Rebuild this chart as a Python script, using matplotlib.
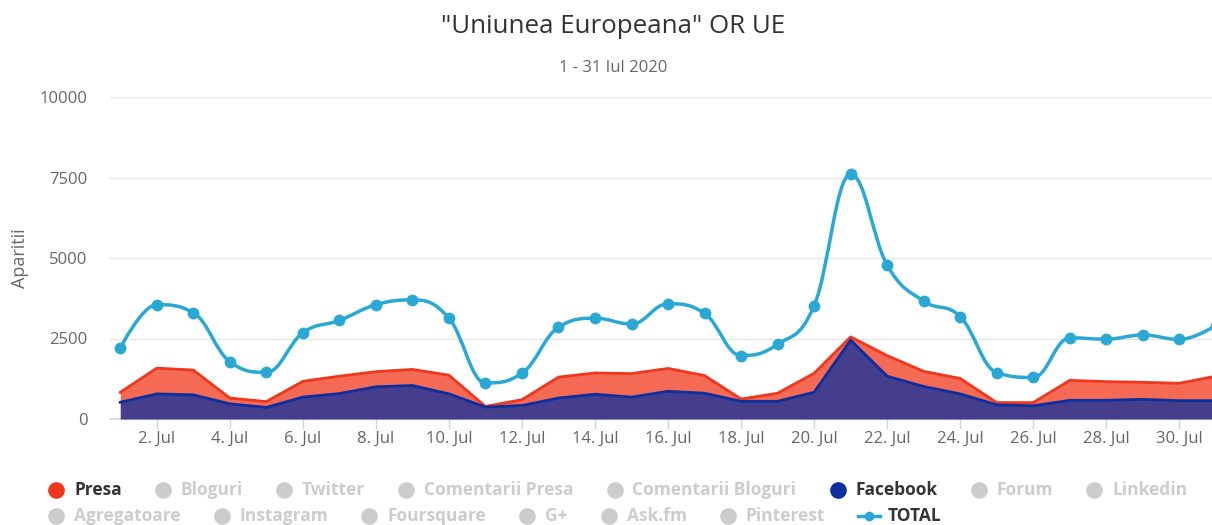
import matplotlib
matplotlib.use("Agg")
import matplotlib.pyplot as plt
from matplotlib.path import Path
from matplotlib.patches import PathPatch

plt.rcParams['font.family'] = ['Open Sans', 'DejaVu Sans']

# --- data ---
days = list(range(1, 32))
tick_days = list(range(2, 31, 2))
tick_labels = [str(d) + '. Jul' for d in tick_days]
y_ticks = [0, 2500, 5000, 7500, 10000]

facebook = [520, 780, 750, 470, 360, 680, 790, 1000, 1040, 780, 370, 420, 650, 770, 680, 860,
            800, 550, 550, 830, 2450, 1330, 1010, 780, 440, 410, 580, 580, 610, 570, 570]
presa = [310, 800, 770, 180, 180, 490, 540, 470, 500, 580, 20, 180, 650, 660, 730, 710,
         550, 70, 250, 590, 100, 640, 470, 480, 70, 100, 620, 580, 530, 540, 760]
total = [2200, 3550, 3300, 1780, 1450, 2680, 3060, 3550, 3700, 3130, 1120, 1420, 2850, 3130, 2950, 3580,
         3280, 1970, 2320, 3520, 7600, 4780, 3660, 3180, 1440, 1290, 2520, 2480, 2610, 2470, 2900]

legend_items = ['Presa', 'Bloguri', 'Twitter', 'Comentarii Presa', 'Comentarii Bloguri', 'Facebook',
                'Forum', 'Linkedin', 'Agregatoare', 'Instagram', 'Foursquare', 'G+', 'Ask.fm',
                'Pinterest', 'TOTAL']

RED_LINE = '#f0361c'
RED_FILL = '#f46a55'
BLUE_LINE = '#0b2f9f'
BLUE_FILL = '#443e8c'
TOTAL_C = '#2aa8d5'
legend_colors = {'Presa': RED_LINE, 'Facebook': BLUE_LINE, 'TOTAL': TOTAL_C}


def spline_path(xs, ys, smoothing=1.5):
    # highcharts style spline, control points per point
    n = len(xs)
    left = [None] * n
    right = [None] * n
    d = smoothing + 1
    for i in range(1, n - 1):
        x, y = xs[i], ys[i]
        lx, ly = xs[i - 1], ys[i - 1]
        nx, ny = xs[i + 1], ys[i + 1]
        lcx = (smoothing * x + lx) / d
        lcy = (smoothing * y + ly) / d
        rcx = (smoothing * x + nx) / d
        rcy = (smoothing * y + ny) / d
        corr = ((rcy - lcy) * (rcx - x)) / (rcx - lcx) + y - rcy
        lcy += corr
        rcy += corr
        if lcy > ly and lcy > y:
            lcy = max(ly, y)
            rcy = 2 * y - lcy
        elif lcy < ly and lcy < y:
            lcy = min(ly, y)
            rcy = 2 * y - lcy
        if rcy > ny and rcy > y:
            rcy = max(ny, y)
            lcy = 2 * y - rcy
        elif rcy < ny and rcy < y:
            rcy = min(ny, y)
            lcy = 2 * y - rcy
        left[i] = (lcx, lcy)
        right[i] = (rcx, rcy)
    verts = [(xs[0], ys[0])]
    codes = [Path.MOVETO]
    for i in range(1, n):
        c1 = right[i - 1] if right[i - 1] else (xs[i - 1], ys[i - 1])
        c2 = left[i] if left[i] else (xs[i], ys[i])
        verts += [c1, c2, (xs[i], ys[i])]
        codes += [Path.CURVE4] * 3
    return Path(verts, codes)


W, H = 1212, 525
fig = plt.figure(figsize=(W / 100, H / 100), dpi=100)
ax = fig.add_axes([110 / W, 1 - 419 / H, 1 - 110 / W, 322 / H])

top = [f + p for f, p in zip(facebook, presa)]
ax.fill_between(days, 0, top, color=RED_FILL, lw=0, zorder=2)
ax.fill_between(days, 0, facebook, color=BLUE_FILL, lw=0, zorder=3)
ax.plot(days, top, color=RED_LINE, lw=2, zorder=4)
ax.plot(days, facebook, color=BLUE_LINE, lw=2, zorder=4)

ax.add_patch(PathPatch(spline_path(days, total), fc='none', ec=TOTAL_C, lw=2.5, zorder=5))
ax.plot(days, total, 'o', color=TOTAL_C, ms=8.5, mec='none', zorder=6)

ax.set_xlim(1 - 10.3 / 36.52, 1 + (W - 120.2) / 36.52)
ax.set_ylim(0, 10000)
ax.set_yticks(y_ticks)
ax.set_yticklabels([str(v) for v in y_ticks])
ax.set_xticks(tick_days)
ax.set_xticklabels(tick_labels)
ax.grid(axis='y', color='#e6e6e6', lw=1, zorder=0)
ax.set_axisbelow(True)
for s in ['top', 'right', 'left']:
    ax.spines[s].set_visible(False)
ax.spines['bottom'].set_color('#ccd6eb')
ax.spines['bottom'].set_linewidth(1.2)
ax.tick_params(axis='y', length=0, pad=16, labelsize=12, labelcolor='#666666')
ax.tick_params(axis='x', length=7.5, width=1, color='#ccd6eb', pad=1, labelsize=12, labelcolor='#666666')

fig.text(20 / W, 1 - 258 / H, 'Aparitii', rotation=90, fontsize=13, color='#666666', ha='center', va='center')
fig.text(613 / W, 1 - 33 / H, '"Uniunea Europeana" OR UE', fontsize=18.6, color='#333333', ha='center', va='baseline')
fig.text(613 / W, 1 - 72 / H, '1 - 31 Iul 2020', fontsize=12, color='#666666', ha='center', va='baseline')

# legend, drawn by hand so it flows like the original
lax = fig.add_axes([0, 0, 1, 1])
lax.set_xlim(0, W)
lax.set_ylim(H, 0)
lax.axis('off')
renderer = fig.canvas.get_renderer()
x, y = 48, 490
for name in legend_items:
    col = legend_colors.get(name, '#cccccc')
    tcol = '#333333' if name in legend_colors else '#cccccc'
    sym_w = 30 if name == 'TOTAL' else 26
    t = lax.text(0, y, name, fontsize=12.5, fontweight='bold', color=tcol, va='center', ha='left')
    tw = t.get_window_extent(renderer).width
    if x + sym_w + tw > 1200:
        x = 48
        y += 26
        t.set_y(y)
    if name == 'TOTAL':
        lax.plot([x, x + 22], [y, y], color=col, lw=2.5)
        lax.plot([x + 11], [y], 'o', color=col, ms=7, mec='none')
    else:
        lax.plot([x + 8], [y], 'o', color=col, ms=12, mec='none')
    t.set_x(x + sym_w)
    x = x + sym_w + tw + 33

fig.savefig('out.png', dpi=100)
